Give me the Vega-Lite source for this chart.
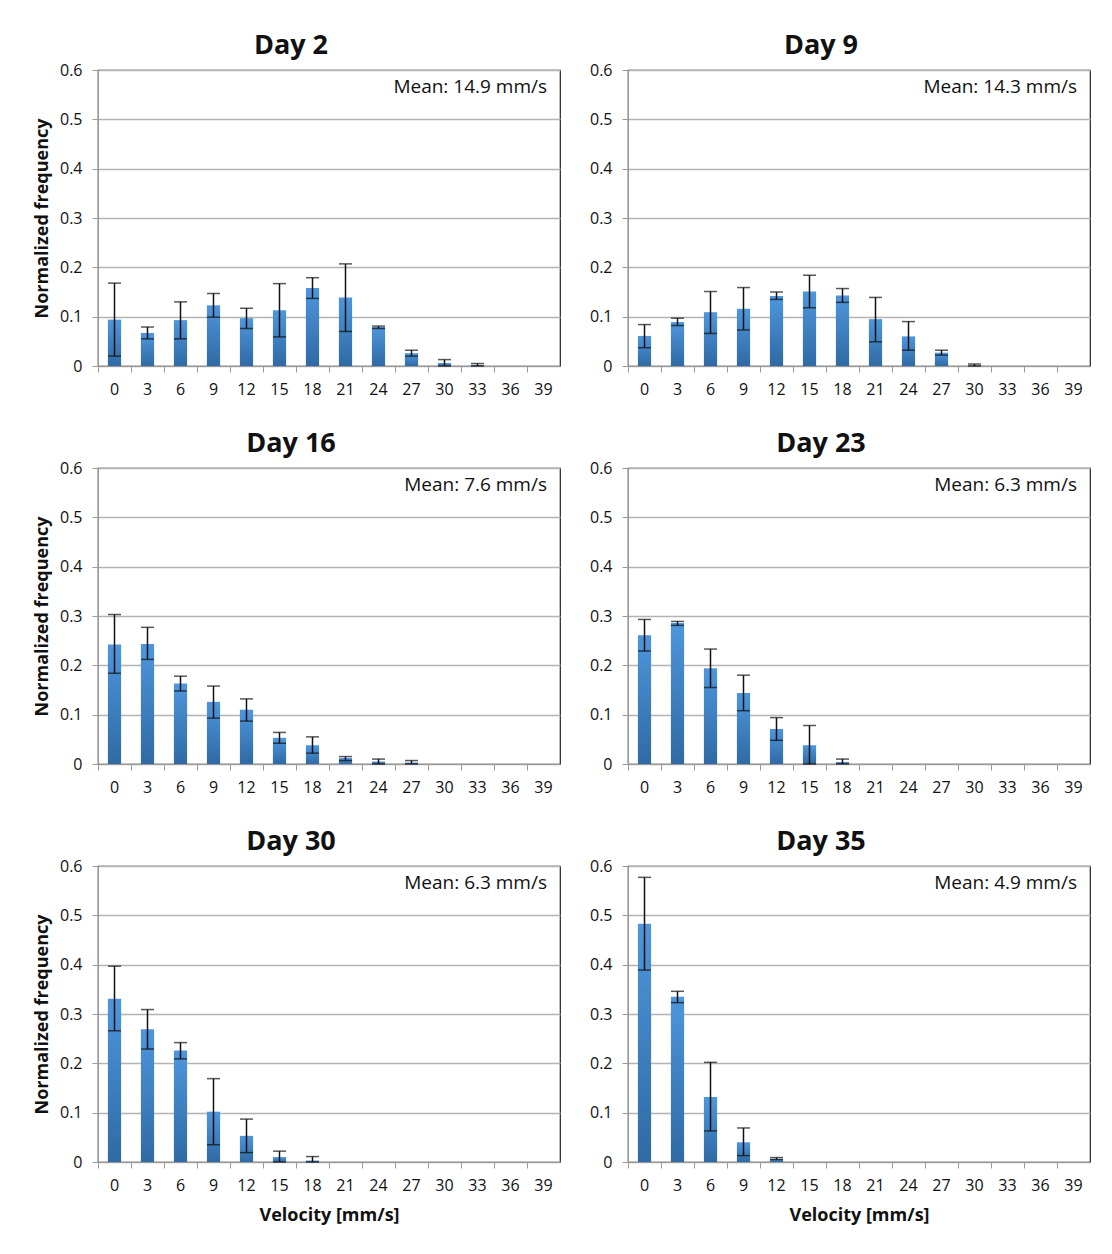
{
  "$schema": "https://vega.github.io/schema/vega-lite/v6.json",
  "padding": {"left": 32, "top": 31, "right": 10, "bottom": 10},
  "background": "white",
  "spacing": 31,
  "config": {
    "font": "Open Sans",
    "view": {"stroke": "#222", "strokeWidth": 1.2},
    "axis": {"labelFontSize": 16, "labelColor": "#111", "domainColor": "#999", "tickColor": "#999", "gridColor": "#b3b3b3", "gridWidth": 1.4, "titleFontSize": 18, "titleFontWeight": "bold", "titleColor": "#111", "tickSize": 6, "labelPadding": 10, "labelFont": "Open Sans", "titleFont": "Open Sans"},
    "axisX": {"labelPadding": 9},
    "title": {"fontSize": 27, "fontWeight": "bold", "color": "#111", "offset": 2, "dx": -38, "font": "Open Sans"}
  },
  "datasets": {
    "h": [
      {"day": 2, "v": 0, "f": 0.094, "lo": 0.020, "hi": 0.168},
      {"day": 2, "v": 3, "f": 0.067, "lo": 0.055, "hi": 0.079},
      {"day": 2, "v": 6, "f": 0.093, "lo": 0.055, "hi": 0.130},
      {"day": 2, "v": 9, "f": 0.123, "lo": 0.099, "hi": 0.147},
      {"day": 2, "v": 12, "f": 0.097, "lo": 0.076, "hi": 0.117},
      {"day": 2, "v": 15, "f": 0.113, "lo": 0.059, "hi": 0.167},
      {"day": 2, "v": 18, "f": 0.158, "lo": 0.137, "hi": 0.179},
      {"day": 2, "v": 21, "f": 0.139, "lo": 0.070, "hi": 0.207},
      {"day": 2, "v": 24, "f": 0.079, "lo": 0.076, "hi": 0.081},
      {"day": 2, "v": 27, "f": 0.026, "lo": 0.020, "hi": 0.032},
      {"day": 2, "v": 30, "f": 0.006, "lo": 0, "hi": 0.013},
      {"day": 2, "v": 33, "f": 0.002, "lo": 0, "hi": 0.005},
      {"day": 2, "v": 36, "f": 0, "lo": 0, "hi": 0},
      {"day": 2, "v": 39, "f": 0, "lo": 0, "hi": 0},
      {"day": 9, "v": 0, "f": 0.061, "lo": 0.037, "hi": 0.084},
      {"day": 9, "v": 3, "f": 0.089, "lo": 0.082, "hi": 0.097},
      {"day": 9, "v": 6, "f": 0.109, "lo": 0.066, "hi": 0.151},
      {"day": 9, "v": 9, "f": 0.116, "lo": 0.073, "hi": 0.159},
      {"day": 9, "v": 12, "f": 0.142, "lo": 0.135, "hi": 0.150},
      {"day": 9, "v": 15, "f": 0.151, "lo": 0.118, "hi": 0.184},
      {"day": 9, "v": 18, "f": 0.143, "lo": 0.129, "hi": 0.157},
      {"day": 9, "v": 21, "f": 0.095, "lo": 0.049, "hi": 0.139},
      {"day": 9, "v": 24, "f": 0.060, "lo": 0.032, "hi": 0.090},
      {"day": 9, "v": 27, "f": 0.027, "lo": 0.022, "hi": 0.032},
      {"day": 9, "v": 30, "f": 0.001, "lo": 0, "hi": 0.004},
      {"day": 9, "v": 33, "f": 0, "lo": 0, "hi": 0},
      {"day": 9, "v": 36, "f": 0, "lo": 0, "hi": 0},
      {"day": 9, "v": 39, "f": 0, "lo": 0, "hi": 0},
      {"day": 16, "v": 0, "f": 0.242, "lo": 0.184, "hi": 0.303},
      {"day": 16, "v": 3, "f": 0.243, "lo": 0.212, "hi": 0.277},
      {"day": 16, "v": 6, "f": 0.163, "lo": 0.148, "hi": 0.178},
      {"day": 16, "v": 9, "f": 0.126, "lo": 0.093, "hi": 0.158},
      {"day": 16, "v": 12, "f": 0.110, "lo": 0.087, "hi": 0.132},
      {"day": 16, "v": 15, "f": 0.053, "lo": 0.042, "hi": 0.064},
      {"day": 16, "v": 18, "f": 0.038, "lo": 0.022, "hi": 0.055},
      {"day": 16, "v": 21, "f": 0.012, "lo": 0.007, "hi": 0.015},
      {"day": 16, "v": 24, "f": 0.005, "lo": 0, "hi": 0.010},
      {"day": 16, "v": 27, "f": 0.003, "lo": 0, "hi": 0.007},
      {"day": 16, "v": 30, "f": 0, "lo": 0, "hi": 0},
      {"day": 16, "v": 33, "f": 0, "lo": 0, "hi": 0},
      {"day": 16, "v": 36, "f": 0, "lo": 0, "hi": 0},
      {"day": 16, "v": 39, "f": 0, "lo": 0, "hi": 0},
      {"day": 23, "v": 0, "f": 0.261, "lo": 0.229, "hi": 0.293},
      {"day": 23, "v": 3, "f": 0.286, "lo": 0.281, "hi": 0.289},
      {"day": 23, "v": 6, "f": 0.194, "lo": 0.155, "hi": 0.233},
      {"day": 23, "v": 9, "f": 0.144, "lo": 0.108, "hi": 0.180},
      {"day": 23, "v": 12, "f": 0.071, "lo": 0.048, "hi": 0.094},
      {"day": 23, "v": 15, "f": 0.038, "lo": 0, "hi": 0.078},
      {"day": 23, "v": 18, "f": 0.004, "lo": 0, "hi": 0.010},
      {"day": 23, "v": 21, "f": 0, "lo": 0, "hi": 0},
      {"day": 23, "v": 24, "f": 0, "lo": 0, "hi": 0},
      {"day": 23, "v": 27, "f": 0, "lo": 0, "hi": 0},
      {"day": 23, "v": 30, "f": 0, "lo": 0, "hi": 0},
      {"day": 23, "v": 33, "f": 0, "lo": 0, "hi": 0},
      {"day": 23, "v": 36, "f": 0, "lo": 0, "hi": 0},
      {"day": 23, "v": 39, "f": 0, "lo": 0, "hi": 0},
      {"day": 30, "v": 0, "f": 0.331, "lo": 0.266, "hi": 0.397},
      {"day": 30, "v": 3, "f": 0.269, "lo": 0.229, "hi": 0.309},
      {"day": 30, "v": 6, "f": 0.226, "lo": 0.209, "hi": 0.242},
      {"day": 30, "v": 9, "f": 0.102, "lo": 0.035, "hi": 0.169},
      {"day": 30, "v": 12, "f": 0.053, "lo": 0.019, "hi": 0.087},
      {"day": 30, "v": 15, "f": 0.010, "lo": 0, "hi": 0.022},
      {"day": 30, "v": 18, "f": 0.003, "lo": 0, "hi": 0.011},
      {"day": 30, "v": 21, "f": 0, "lo": 0, "hi": 0},
      {"day": 30, "v": 24, "f": 0, "lo": 0, "hi": 0},
      {"day": 30, "v": 27, "f": 0, "lo": 0, "hi": 0},
      {"day": 30, "v": 30, "f": 0, "lo": 0, "hi": 0},
      {"day": 30, "v": 33, "f": 0, "lo": 0, "hi": 0},
      {"day": 30, "v": 36, "f": 0, "lo": 0, "hi": 0},
      {"day": 30, "v": 39, "f": 0, "lo": 0, "hi": 0},
      {"day": 35, "v": 0, "f": 0.483, "lo": 0.389, "hi": 0.577},
      {"day": 35, "v": 3, "f": 0.335, "lo": 0.323, "hi": 0.346},
      {"day": 35, "v": 6, "f": 0.132, "lo": 0.063, "hi": 0.202},
      {"day": 35, "v": 9, "f": 0.040, "lo": 0.013, "hi": 0.069},
      {"day": 35, "v": 12, "f": 0.006, "lo": 0.005, "hi": 0.009},
      {"day": 35, "v": 15, "f": 0, "lo": 0, "hi": 0},
      {"day": 35, "v": 18, "f": 0, "lo": 0, "hi": 0},
      {"day": 35, "v": 21, "f": 0, "lo": 0, "hi": 0},
      {"day": 35, "v": 24, "f": 0, "lo": 0, "hi": 0},
      {"day": 35, "v": 27, "f": 0, "lo": 0, "hi": 0},
      {"day": 35, "v": 30, "f": 0, "lo": 0, "hi": 0},
      {"day": 35, "v": 33, "f": 0, "lo": 0, "hi": 0},
      {"day": 35, "v": 36, "f": 0, "lo": 0, "hi": 0},
      {"day": 35, "v": 39, "f": 0, "lo": 0, "hi": 0}
    ],
    "m": [
      {"day": 2, "t": "Mean: 14.9 mm/s"},
      {"day": 9, "t": "Mean: 14.3 mm/s"},
      {"day": 16, "t": "Mean: 7.6 mm/s"},
      {"day": 23, "t": "Mean: 6.3 mm/s"},
      {"day": 30, "t": "Mean: 6.3 mm/s"},
      {"day": 35, "t": "Mean: 4.9 mm/s"}
    ]
  },
  "vconcat": [
    {"spacing": 27, "hconcat": [
      {
        "width": 462, "height": 296,
        "title": "Day 2",
        "encoding": {"x": {"field": "v", "type": "ordinal", "scale": {"paddingInner": 0, "paddingOuter": 0}, "axis": {"title": null, "labelAngle": 0, "bandPosition": 0}}},
        "layer": [
          {"data": {"name": "h"}, "transform": [{"filter": "datum.day == 2"}],
           "mark": {"type": "bar", "width": {"band": 0.4}, "color": {"gradient": "linear", "x1": 0, "y1": 0, "x2": 0, "y2": 1, "stops": [{"offset": 0, "color": "#4e96dd"}, {"offset": 1, "color": "#2f6aa4"}]}},
           "encoding": {"y": {"field": "f", "type": "quantitative", "scale": {"domain": [0, 0.6]}, "axis": {"title": "Normalized frequency", "values": [0, 0.1, 0.2, 0.3, 0.4, 0.5, 0.6], "format": "~g", "grid": true, "titlePadding": 8}}}},
          {"data": {"name": "h"}, "transform": [{"filter": "datum.day == 2 && datum.hi > 0"}],
           "mark": {"type": "errorbar", "color": "#111", "rule": {"strokeWidth": 1.5}, "ticks": {"size": 13, "thickness": 1.5}},
           "encoding": {"y": {"field": "lo", "type": "quantitative", "title": "Normalized frequency"}, "y2": {"field": "hi"}}},
          {"data": {"name": "m"}, "transform": [{"filter": "datum.day == 2"}],
           "mark": {"type": "text", "align": "right", "baseline": "middle", "fontSize": 19, "color": "#111", "dx": -13},
           "encoding": {"x": {"datum": 39, "type": "ordinal", "bandPosition": 1}, "y": {"datum": 0.565, "type": "quantitative"}, "text": {"field": "t"}}}
        ]
      },
      {
        "width": 462, "height": 296,
        "title": "Day 9",
        "encoding": {"x": {"field": "v", "type": "ordinal", "scale": {"paddingInner": 0, "paddingOuter": 0}, "axis": {"title": null, "labelAngle": 0, "bandPosition": 0}}},
        "layer": [
          {"data": {"name": "h"}, "transform": [{"filter": "datum.day == 9"}],
           "mark": {"type": "bar", "width": {"band": 0.4}, "color": {"gradient": "linear", "x1": 0, "y1": 0, "x2": 0, "y2": 1, "stops": [{"offset": 0, "color": "#4e96dd"}, {"offset": 1, "color": "#2f6aa4"}]}},
           "encoding": {"y": {"field": "f", "type": "quantitative", "scale": {"domain": [0, 0.6]}, "axis": {"title": null, "values": [0, 0.1, 0.2, 0.3, 0.4, 0.5, 0.6], "format": "~g", "grid": true}}}},
          {"data": {"name": "h"}, "transform": [{"filter": "datum.day == 9 && datum.hi > 0"}],
           "mark": {"type": "errorbar", "color": "#111", "rule": {"strokeWidth": 1.5}, "ticks": {"size": 13, "thickness": 1.5}},
           "encoding": {"y": {"field": "lo", "type": "quantitative", "title": null}, "y2": {"field": "hi"}}},
          {"data": {"name": "m"}, "transform": [{"filter": "datum.day == 9"}],
           "mark": {"type": "text", "align": "right", "baseline": "middle", "fontSize": 19, "color": "#111", "dx": -13},
           "encoding": {"x": {"datum": 39, "type": "ordinal", "bandPosition": 1}, "y": {"datum": 0.565, "type": "quantitative"}, "text": {"field": "t"}}}
        ]
      }
    ]},
    {"spacing": 27, "hconcat": [
      {
        "width": 462, "height": 296,
        "title": "Day 16",
        "encoding": {"x": {"field": "v", "type": "ordinal", "scale": {"paddingInner": 0, "paddingOuter": 0}, "axis": {"title": null, "labelAngle": 0, "bandPosition": 0}}},
        "layer": [
          {"data": {"name": "h"}, "transform": [{"filter": "datum.day == 16"}],
           "mark": {"type": "bar", "width": {"band": 0.4}, "color": {"gradient": "linear", "x1": 0, "y1": 0, "x2": 0, "y2": 1, "stops": [{"offset": 0, "color": "#4e96dd"}, {"offset": 1, "color": "#2f6aa4"}]}},
           "encoding": {"y": {"field": "f", "type": "quantitative", "scale": {"domain": [0, 0.6]}, "axis": {"title": "Normalized frequency", "values": [0, 0.1, 0.2, 0.3, 0.4, 0.5, 0.6], "format": "~g", "grid": true, "titlePadding": 8}}}},
          {"data": {"name": "h"}, "transform": [{"filter": "datum.day == 16 && datum.hi > 0"}],
           "mark": {"type": "errorbar", "color": "#111", "rule": {"strokeWidth": 1.5}, "ticks": {"size": 13, "thickness": 1.5}},
           "encoding": {"y": {"field": "lo", "type": "quantitative", "title": "Normalized frequency"}, "y2": {"field": "hi"}}},
          {"data": {"name": "m"}, "transform": [{"filter": "datum.day == 16"}],
           "mark": {"type": "text", "align": "right", "baseline": "middle", "fontSize": 19, "color": "#111", "dx": -13},
           "encoding": {"x": {"datum": 39, "type": "ordinal", "bandPosition": 1}, "y": {"datum": 0.565, "type": "quantitative"}, "text": {"field": "t"}}}
        ]
      },
      {
        "width": 462, "height": 296,
        "title": "Day 23",
        "encoding": {"x": {"field": "v", "type": "ordinal", "scale": {"paddingInner": 0, "paddingOuter": 0}, "axis": {"title": null, "labelAngle": 0, "bandPosition": 0}}},
        "layer": [
          {"data": {"name": "h"}, "transform": [{"filter": "datum.day == 23"}],
           "mark": {"type": "bar", "width": {"band": 0.4}, "color": {"gradient": "linear", "x1": 0, "y1": 0, "x2": 0, "y2": 1, "stops": [{"offset": 0, "color": "#4e96dd"}, {"offset": 1, "color": "#2f6aa4"}]}},
           "encoding": {"y": {"field": "f", "type": "quantitative", "scale": {"domain": [0, 0.6]}, "axis": {"title": null, "values": [0, 0.1, 0.2, 0.3, 0.4, 0.5, 0.6], "format": "~g", "grid": true}}}},
          {"data": {"name": "h"}, "transform": [{"filter": "datum.day == 23 && datum.hi > 0"}],
           "mark": {"type": "errorbar", "color": "#111", "rule": {"strokeWidth": 1.5}, "ticks": {"size": 13, "thickness": 1.5}},
           "encoding": {"y": {"field": "lo", "type": "quantitative", "title": null}, "y2": {"field": "hi"}}},
          {"data": {"name": "m"}, "transform": [{"filter": "datum.day == 23"}],
           "mark": {"type": "text", "align": "right", "baseline": "middle", "fontSize": 19, "color": "#111", "dx": -13},
           "encoding": {"x": {"datum": 39, "type": "ordinal", "bandPosition": 1}, "y": {"datum": 0.565, "type": "quantitative"}, "text": {"field": "t"}}}
        ]
      }
    ]},
    {"spacing": 27, "hconcat": [
      {
        "width": 462, "height": 296,
        "title": "Day 30",
        "encoding": {"x": {"field": "v", "type": "ordinal", "scale": {"paddingInner": 0, "paddingOuter": 0}, "axis": {"title": "Velocity [mm/s]", "labelAngle": 0, "bandPosition": 0, "titlePadding": 13}}},
        "layer": [
          {"data": {"name": "h"}, "transform": [{"filter": "datum.day == 30"}],
           "mark": {"type": "bar", "width": {"band": 0.4}, "color": {"gradient": "linear", "x1": 0, "y1": 0, "x2": 0, "y2": 1, "stops": [{"offset": 0, "color": "#4e96dd"}, {"offset": 1, "color": "#2f6aa4"}]}},
           "encoding": {"y": {"field": "f", "type": "quantitative", "scale": {"domain": [0, 0.6]}, "axis": {"title": "Normalized frequency", "values": [0, 0.1, 0.2, 0.3, 0.4, 0.5, 0.6], "format": "~g", "grid": true, "titlePadding": 8}}}},
          {"data": {"name": "h"}, "transform": [{"filter": "datum.day == 30 && datum.hi > 0"}],
           "mark": {"type": "errorbar", "color": "#111", "rule": {"strokeWidth": 1.5}, "ticks": {"size": 13, "thickness": 1.5}},
           "encoding": {"y": {"field": "lo", "type": "quantitative", "title": "Normalized frequency"}, "y2": {"field": "hi"}}},
          {"data": {"name": "m"}, "transform": [{"filter": "datum.day == 30"}],
           "mark": {"type": "text", "align": "right", "baseline": "middle", "fontSize": 19, "color": "#111", "dx": -13},
           "encoding": {"x": {"datum": 39, "type": "ordinal", "bandPosition": 1}, "y": {"datum": 0.565, "type": "quantitative"}, "text": {"field": "t"}}}
        ]
      },
      {
        "width": 462, "height": 296,
        "title": "Day 35",
        "encoding": {"x": {"field": "v", "type": "ordinal", "scale": {"paddingInner": 0, "paddingOuter": 0}, "axis": {"title": "Velocity [mm/s]", "labelAngle": 0, "bandPosition": 0, "titlePadding": 13}}},
        "layer": [
          {"data": {"name": "h"}, "transform": [{"filter": "datum.day == 35"}],
           "mark": {"type": "bar", "width": {"band": 0.4}, "color": {"gradient": "linear", "x1": 0, "y1": 0, "x2": 0, "y2": 1, "stops": [{"offset": 0, "color": "#4e96dd"}, {"offset": 1, "color": "#2f6aa4"}]}},
           "encoding": {"y": {"field": "f", "type": "quantitative", "scale": {"domain": [0, 0.6]}, "axis": {"title": null, "values": [0, 0.1, 0.2, 0.3, 0.4, 0.5, 0.6], "format": "~g", "grid": true}}}},
          {"data": {"name": "h"}, "transform": [{"filter": "datum.day == 35 && datum.hi > 0"}],
           "mark": {"type": "errorbar", "color": "#111", "rule": {"strokeWidth": 1.5}, "ticks": {"size": 13, "thickness": 1.5}},
           "encoding": {"y": {"field": "lo", "type": "quantitative", "title": null}, "y2": {"field": "hi"}}},
          {"data": {"name": "m"}, "transform": [{"filter": "datum.day == 35"}],
           "mark": {"type": "text", "align": "right", "baseline": "middle", "fontSize": 19, "color": "#111", "dx": -13},
           "encoding": {"x": {"datum": 39, "type": "ordinal", "bandPosition": 1}, "y": {"datum": 0.565, "type": "quantitative"}, "text": {"field": "t"}}}
        ]
      }
    ]}
  ]
}
